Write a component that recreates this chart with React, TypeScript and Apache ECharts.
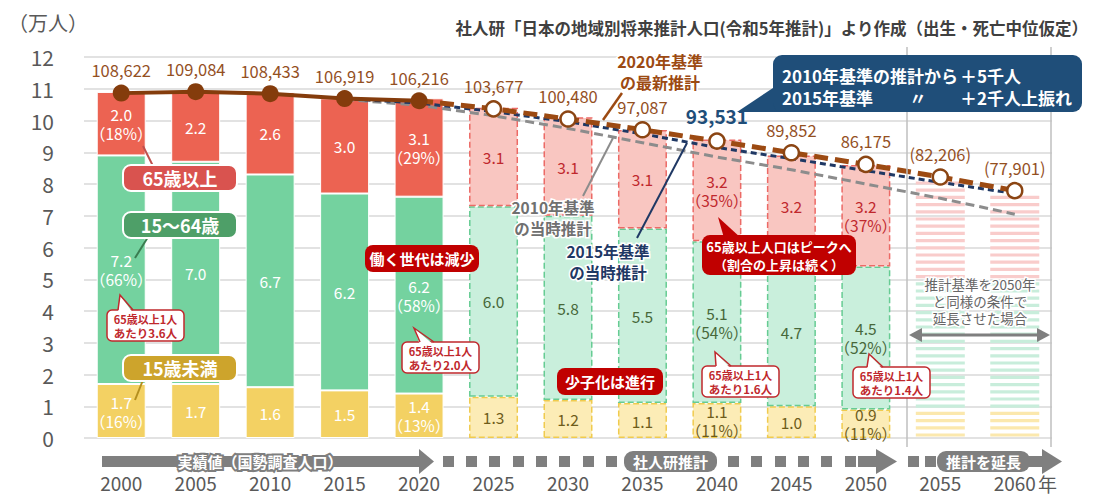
import React, { useEffect, useRef } from 'react';
import * as echarts from 'echarts';

const years = ['2000', '2005', '2010', '2015', '2020', '2025', '2030', '2035', '2040', '2045', '2050', '2055', '2060'];
const under15 = [1.7, 1.7, 1.6, 1.5, 1.4, 1.3, 1.2, 1.1, 1.1, 1.0, 0.9, 0.85, 0.85];
const age15to64 = [7.2, 7.0, 6.7, 6.2, 6.2, 6.0, 5.8, 5.5, 5.1, 4.7, 4.5, 4.2, 4.1];
const over65 = [2.0, 2.2, 2.6, 3.0, 3.1, 3.1, 3.1, 3.1, 3.2, 3.2, 3.2, 3.15, 2.85];
const under15Pct = ['16%', '', '', '', '13%', '', '', '', '11%', '', '11%', '', ''];
const age15to64Pct = ['66%', '', '', '', '58%', '', '', '', '54%', '', '52%', '', ''];
const over65Pct = ['18%', '', '', '', '29%', '', '', '', '35%', '', '37%', '', ''];
const totals = [108622, 109084, 108433, 106919, 106216, 103677, 100480, 97087, 93531, 89852, 86175, 82206, 77901];
const proj2015Base = [null, null, null, 10.69, 10.55, 10.28, 9.96, 9.58, 9.15, 8.8, 8.42, 8.05, 7.7];
const proj2010Base = [null, null, null, 10.66, 10.48, 10.15, 9.75, 9.3, 8.85, 8.45, 8.0, 7.55, 7.05];
const LAST_ACTUAL = 4;
const LAST_PROJ = 10;
const HIGHLIGHT = 8;

const FONT = '"Noto Sans CJK JP", "Noto Sans", sans-serif';
const STRIPE = ['#fbe8ad', '#c8eddb', '#f9cccb'];

function barSeries(name: string, values: number[], pct: string[], solid: string, light: string, border: string, textColor: string) {
  return {
    type: 'bar', name, stack: 'pop', barWidth: 49, z: 2,
    data: values.map((v, i) => {
      const actual = i <= LAST_ACTUAL;
      const ext = i > LAST_PROJ;
      return {
        value: v,
        itemStyle: ext
          ? { color: 'rgba(0,0,0,0)', borderWidth: 0 }
          : actual
          ? { color: solid, borderColor: '#ffffff', borderWidth: 1 }
          : { color: light, borderColor: border, borderWidth: 1.5, borderType: [6, 3] },
        label: {
          show: !ext, position: 'inside', color: actual ? '#ffffff' : textColor,
          fontSize: 15.5, lineHeight: 19, fontFamily: FONT,
          formatter: v.toFixed(1) + (pct[i] ? '\n（' + pct[i] + '）' : ''),
        },
      };
    }),
  };
}

function renderStripes(params: any, api: any) {
  const idx = api.value(0);
  const lo = api.value(1), hi = api.value(2), k = api.value(3);
  const base = api.coord([idx, 0]);
  const pLo = api.coord([idx, lo])[1];
  const pHi = api.coord([idx, hi])[1];
  const w = 49;
  const children: any[] = [];
  for (let n = 0; n < 200; n++) {
    const yc = base[1] - 3 - n * 7.2;
    if (yc < pHi + 1) break;
    if (yc <= pLo - 1) children.push({ type: 'rect', shape: { x: base[0] - w / 2, y: yc - 1.6, width: w, height: 3.2 }, style: { fill: STRIPE[k] } });
  }
  return { type: 'group', children };
}

let zc = 100;
const T = (x: number, y: number, text: string, o: any = {}) => ({
  type: 'text', x, y, z: zc++,
  style: { text, fontFamily: FONT, align: 'center', verticalAlign: 'middle', ...o },
});
const R = (x: number, y: number, w: number, h: number, r: number, fill: string, stroke?: string, lw?: number) => ({
  type: 'rect', z: zc++, shape: { x, y, width: w, height: h, r }, style: { fill, stroke, lineWidth: lw || 0 },
});
const L = (x1: number, y1: number, x2: number, y2: number, stroke: string, lw: number) => ({
  type: 'line', z: zc++, shape: { x1, y1, x2, y2 }, style: { stroke, lineWidth: lw },
});
const P = (points: number[][], fill: string) => ({ type: 'polygon', z: zc++, shape: { points }, style: { fill } });
const PL = (points: number[][], stroke: string, lw: number) => ({ type: 'polyline', z: zc++, shape: { points }, style: { stroke, lineWidth: lw, fill: null } });

function ratioBox(x: number, y: number, tail: number[][], num: string) {
  const red = '#c0282d';
  return [
    R(x, y, 77, 31, 5, '#ffffff', red, 1.5),
    P([[tail[0][0], y + 3], tail[1], [tail[2][0], y + 3]], '#ffffff'),
    PL([[tail[0][0], y], tail[1], [tail[2][0], y]], red, 1.5),
    T(x + 38.5, y + 9, '65歳以上1人', { fontSize: 11, fontWeight: 'bold', fill: red }),
    T(x + 38.5, y + 23, 'あたり' + num + '人', { fontSize: 11.5, fontWeight: 'bold', fill: red }),
  ];
}

function buildGraphics() {
  const g: any[] = [];
  const gray = '#7f7f7f';
  // vertical separators
  g.push(L(907, 47, 907, 447, '#bfbfbf', 1.5));
  g.push(L(1051, 47, 1051, 447, '#bfbfbf', 1.5));
  // unit + title
  g.push(T(8, 22, '（万人）', { align: 'left', fontSize: 20, fill: '#595959' }));
  g.push(T(1088, 28, '社人研「日本の地域別将来推計人口(令和5年推計)」より作成（出生・死亡中位仮定）', { align: 'right', fontSize: 16.5, fontWeight: 'bold', fill: '#404040' }));
  g.push(T(1038, 483, '年', { align: 'left', fontSize: 19, fill: '#595959' }));

  // group labels
  g.push(L(143, 146, 153, 166, '#c0504d', 2));
  g.push(R(123, 165, 114, 26, 8, '#d9534f', '#ffffff', 2));
  g.push(T(180, 178, '65歳以上', { fontSize: 18, fontWeight: 'bold', fill: '#ffffff' }));
  g.push(L(148, 237, 135, 258, '#3a7d50', 2));
  g.push(R(123, 212, 114, 26, 8, '#4e9f68', '#ffffff', 2));
  g.push(T(180, 225, '15〜64歳', { fontSize: 18, fontWeight: 'bold', fill: '#ffffff' }));
  g.push(L(143, 380, 135, 400, '#b38f1f', 2));
  g.push(R(123, 355, 114, 26, 8, '#cda42c', '#ffffff', 2));
  g.push(T(180, 368, '15歳未満', { fontSize: 18, fontWeight: 'bold', fill: '#ffffff' }));

  // ratio boxes
  g.push(...ratioBox(107, 310, [[118, 0], [120, 295], [133, 0]], '3.6'));
  g.push(...ratioBox(402, 342, [[420, 0], [414, 328], [434, 0]], '2.0'));
  g.push(...ratioBox(702, 366, [[716, 0], [715, 352], [731, 0]], '1.6'));
  g.push(...ratioBox(853, 367, [[867, 0], [869, 354], [883, 0]], '1.4'));

  // dark red boxes
  const dr = '#c00000';
  g.push(R(365, 245, 114, 27, 8, dr));
  g.push(T(422, 258.5, '働く世代は減少', { fontSize: 15, fontWeight: 'bold', fill: '#ffffff' }));
  g.push(R(557, 368, 106, 27, 8, dr));
  g.push(T(610, 381.5, '少子化は進行', { fontSize: 15, fontWeight: 'bold', fill: '#ffffff' }));
  g.push(P([[724, 238], [718, 217], [741, 238]], dr));
  g.push(R(702, 235, 154, 40, 8, dr));
  g.push(T(779, 246, '65歳以上人口はピークへ', { fontSize: 13, fontWeight: 'bold', fill: '#ffffff' }));
  g.push(T(779, 264, '（割合の上昇は続く）', { fontSize: 13, fontWeight: 'bold', fill: '#ffffff' }));

  // projection labels
  g.push(L(622, 93, 603, 120, '#9c4a12', 2.5));
  g.push(T(660, 61, '2020年基準', { fontSize: 16, fontWeight: 'bold', fill: '#9c4a12', stroke: '#ffffff', lineWidth: 3 }));
  g.push(T(660, 82, 'の最新推計', { fontSize: 16, fontWeight: 'bold', fill: '#9c4a12', stroke: '#ffffff', lineWidth: 3 }));
  g.push(L(583, 196, 613, 138, '#8c8c8c', 2));
  g.push(T(553, 207, '2010年基準', { fontSize: 15.5, fontWeight: 'bold', fill: '#707070', stroke: '#ffffff', lineWidth: 3 }));
  g.push(T(553, 228, 'の当時推計', { fontSize: 15.5, fontWeight: 'bold', fill: '#707070', stroke: '#ffffff', lineWidth: 3 }));
  g.push(L(637, 238, 687, 143, '#1f3864', 2));
  g.push(T(608, 251, '2015年基準', { fontSize: 15.5, fontWeight: 'bold', fill: '#1f3864', stroke: '#ffffff', lineWidth: 3 }));
  g.push(T(608, 272, 'の当時推計', { fontSize: 15.5, fontWeight: 'bold', fill: '#1f3864', stroke: '#ffffff', lineWidth: 3 }));

  // navy callout
  const nv = '#1f4e79';
  g.push(P([[737, 112], [776, 86], [788, 112]], nv));
  g.push(R(773, 55, 309, 57, 9, nv));
  g.push(T(782, 75, '2010年基準の推計から', { align: 'left', fontSize: 17, fontWeight: 'bold', fill: '#ffffff' }));
  g.push(T(960, 75, '＋5千人', { align: 'left', fontSize: 17, fontWeight: 'bold', fill: '#ffffff' }));
  g.push(T(782, 97, '2015年基準', { align: 'left', fontSize: 17, fontWeight: 'bold', fill: '#ffffff' }));
  g.push(T(918, 97, '〃', { fontSize: 17, fontWeight: 'bold', fill: '#ffffff' }));
  g.push(T(960, 97, '＋2千人上振れ', { align: 'left', fontSize: 17, fontWeight: 'bold', fill: '#ffffff' }));

  // extension note
  g.push(T(980, 284, '推計基準を2050年', { fontSize: 13.5, fill: '#666666', stroke: '#ffffff', lineWidth: 3 }));
  g.push(T(980, 301, 'と同様の条件で', { fontSize: 13.5, fill: '#666666', stroke: '#ffffff', lineWidth: 3 }));
  g.push(T(980, 318, '延長させた場合', { fontSize: 13.5, fill: '#666666', stroke: '#ffffff', lineWidth: 3 }));
  g.push(L(918, 335, 1040, 335, gray, 3));
  g.push(P([[909, 335], [922, 328], [922, 342]], gray));
  g.push(P([[1050, 335], [1037, 328], [1037, 342]], gray));

  // bottom band
  g.push(R(102, 456, 320, 11, 0, gray));
  g.push(P([[419, 449], [434, 461.5], [419, 474]], gray));
  g.push(T(260, 461.5, '実績値（国勢調査人口）', { fontSize: 15, fontWeight: 'bold', fill: '#ffffff', stroke: gray, lineWidth: 4 }));
  [443, 466, 489, 513, 536, 559, 583, 606, 728, 751, 775, 798, 821, 845, 908, 925].forEach((x) => g.push(R(x, 456, 11, 11, 0, gray)));
  g.push(R(624, 451, 93, 21, 9, gray));
  g.push(T(670.5, 461.5, '社人研推計', { fontSize: 15, fontWeight: 'bold', fill: '#ffffff' }));
  g.push(R(858, 456, 20, 11, 0, gray));
  g.push(P([[876, 449], [897, 461.5], [876, 474]], gray));
  g.push(R(937, 451, 93, 21, 9, gray));
  g.push(T(983.5, 461.5, '推計を延長', { fontSize: 15, fontWeight: 'bold', fill: '#ffffff' }));
  g.push(R(1028, 456, 18, 11, 0, gray));
  g.push(P([[1042, 449], [1062, 461.5], [1042, 474]], gray));
  return g;
}

const fmt = (n: number) => n.toLocaleString('en-US');

export default function App() {
  const ref = useRef<HTMLDivElement>(null);
  useEffect(() => {
    document.body.style.margin = '0';
    const chart = echarts.init(ref.current!, null, { renderer: 'svg' });
    const stripeData: number[][] = [];
    years.forEach((_, i) => {
      if (i <= LAST_PROJ) return;
      let b = 0;
      [under15, age15to64, over65].forEach((arr, k) => {
        stripeData.push([i, b, b + arr[i], k]);
        b += arr[i];
      });
    });
    zc = 100;
    const option: any = {
      animation: false,
      textStyle: { fontFamily: FONT },
      grid: { left: 84, right: 42, top: 57, bottom: 58, containLabel: false },
      xAxis: {
        type: 'category', data: years,
        axisLine: { show: false }, axisTick: { show: false },
        axisLabel: { fontSize: 19, color: '#595959', margin: 35, fontFamily: FONT },
      },
      yAxis: {
        type: 'value', min: 0, max: 12, interval: 1,
        axisLine: { show: false }, axisTick: { show: false },
        axisLabel: { fontSize: 21, color: '#595959', margin: 30, fontFamily: FONT },
        splitLine: { lineStyle: { color: '#d9d9d9', width: 1.5 } },
      },
      series: [
        barSeries('15歳未満', under15, under15Pct, '#f3d163', '#fcecb6', '#f0cb4e', '#6e5c1a'),
        barSeries('15〜64歳', age15to64, age15to64Pct, '#74d29f', '#c9efdc', '#66cc93', '#47683a'),
        barSeries('65歳以上', over65, over65Pct, '#ec6352', '#f9c6c1', '#ec6a66', '#c0282d'),
        { type: 'custom', renderItem: renderStripes, data: stripeData, z: 2, silent: true, encode: { x: 0, y: [1, 2] } },
        {
          type: 'line', name: '2010年基準', data: proj2010Base.map((v) => (v == null ? '-' : v)),
          symbol: 'none', lineStyle: { color: '#8c8c8c', width: 3, type: [9, 5] }, z: 3, silent: true,
        },
        {
          type: 'line', name: '2015年基準', data: proj2015Base.map((v) => (v == null ? '-' : v)),
          symbol: 'none', lineStyle: { color: '#1f3864', width: 3, type: [6, 4] }, z: 4, silent: true,
        },
        {
          type: 'line', name: '2020年基準', z: 5,
          lineStyle: { color: '#9c4a12', width: 5, type: [14, 7] },
          symbol: 'circle', symbolSize: 15,
          itemStyle: { color: '#ffffff', borderColor: '#8b4513', borderWidth: 2.5 },
          data: totals.map((t, i) => {
            if (i < LAST_ACTUAL) return '-';
            const item: any = { value: t / 10000 };
            if (i === LAST_ACTUAL) {
              item.symbol = 'none';
              item.label = { show: false };
            } else if (i === HIGHLIGHT) {
              item.label = { show: true, position: 'top', distance: 7, color: '#1f4e79', fontSize: 19, fontWeight: 'bold', formatter: fmt(t) };
            } else {
              item.label = { show: true, position: 'top', distance: 6, color: '#94501f', fontSize: 16.5, formatter: i > LAST_PROJ ? '(' + fmt(t) + ')' : fmt(t) };
            }
            return item;
          }),
        },
        {
          type: 'line', name: '実績', z: 6,
          lineStyle: { color: '#843c0c', width: 4 },
          symbol: 'circle', symbolSize: 17,
          itemStyle: { color: '#843c0c' },
          data: totals.map((t, i) => (i <= LAST_ACTUAL ? t / 10000 : '-')),
          label: { show: true, position: 'top', distance: 6, color: '#94501f', fontSize: 16.5, formatter: (p: any) => fmt(totals[p.dataIndex]) },
        },
      ],
      graphic: buildGraphics(),
    };
    chart.setOption(option);
    return () => chart.dispose();
  }, []);
  return <div ref={ref} style={{ width: 1094, height: 496 }} />;
}
